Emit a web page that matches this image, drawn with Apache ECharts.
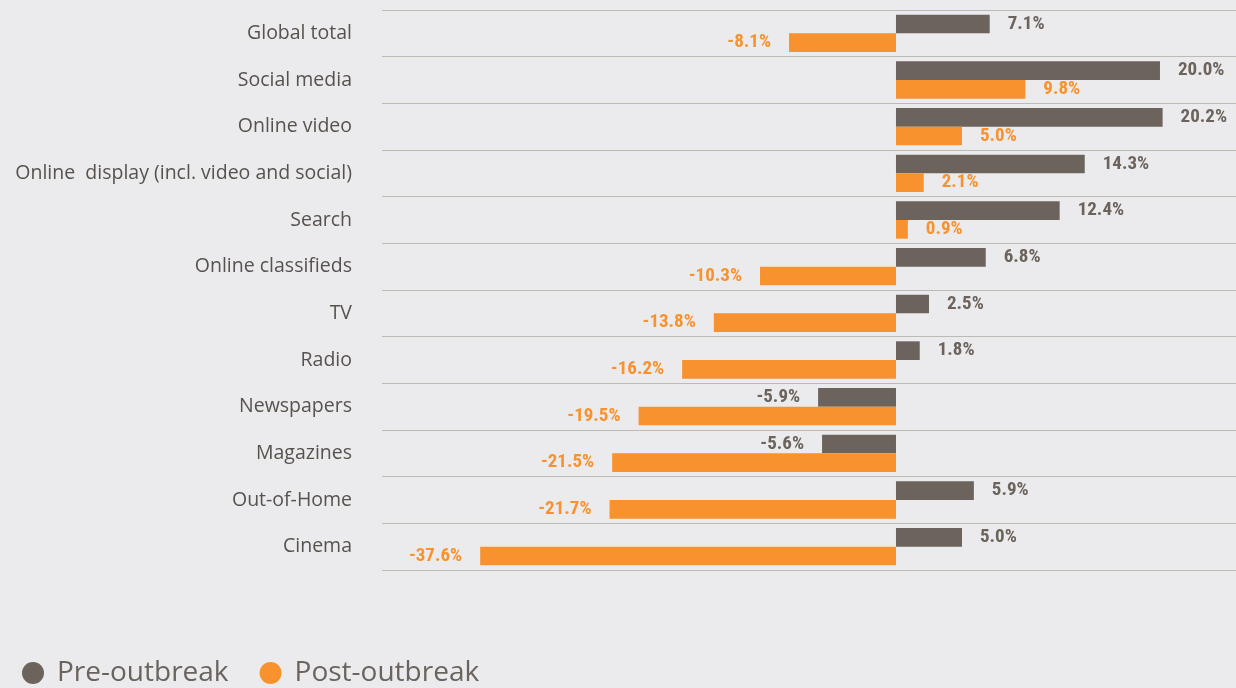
<!DOCTYPE html>
<html>
<head>
<meta charset="utf-8">
<script src="https://cdn.jsdelivr.net/npm/echarts@6/dist/echarts.min.js"></script>
<style>
html,body{margin:0;padding:0;background:#ebebed;}
#chart{width:1236px;height:688px;}
</style>
</head>
<body>
<div id="chart"></div>
<script>
const categories = [
  'Global total', 'Social media', 'Online video', 'Online  display (incl. video and social)',
  'Search', 'Online classifieds', 'TV', 'Radio', 'Newspapers', 'Magazines', 'Out-of-Home', 'Cinema'
];
const preOutbreak = [7.1, 20.0, 20.2, 14.3, 12.4, 6.8, 2.5, 1.8, -5.9, -5.6, 5.9, 5.0];
const postOutbreak = [-8.1, 9.8, 5.0, 2.1, 0.9, -10.3, -13.8, -16.2, -19.5, -21.5, -21.7, -37.6];
const seriesNames = ['Pre-outbreak', 'Post-outbreak'];

const PRE_COLOR = '#6b635c';
const POST_COLOR = '#f7922e';
const LABEL_FONT = '"Roboto Condensed", "Liberation Sans Narrow", "DejaVu Sans Condensed", sans-serif';

function buildData(values) {
  return values.map(v => ({
    value: v,
    label: { position: v >= 0 ? 'right' : 'left' }
  }));
}

function makeSeries(name, values, color) {
  return {
    name: name,
    type: 'bar',
    data: buildData(values),
    barGap: '0%',
    barCategoryGap: '20%',
    itemStyle: { color: color },
    label: {
      show: true,
      distance: 18,
      color: color,
      fontFamily: LABEL_FONT,
      fontSize: 19,
      fontWeight: 'bold',
      formatter: p => p.value.toFixed(1) + '%'
    }
  };
}

const chart = echarts.init(document.getElementById('chart'), null, { renderer: 'canvas' });
chart.setOption({
  backgroundColor: '#ebebed',
  animation: false,
  grid: { left: 382, right: 0, top: 10, height: 560, containLabel: false },
  xAxis: {
    type: 'value',
    min: -45.04,
    max: 25.76,
    // the reference compresses the long Cinema bar; an invisible axis break does the same
    breaks: [{ start: -37.5, end: -31.4, gap: 0 }],
    breakArea: { show: false, itemStyle: { opacity: 0, borderWidth: 0 } },
    axisLabel: { show: false },
    axisLine: { show: false },
    axisTick: { show: false },
    splitLine: { show: false }
  },
  yAxis: {
    type: 'category',
    data: categories,
    inverse: true,
    axisLine: { show: false },
    axisTick: { show: false },
    axisLabel: {
      margin: 30,
      color: '#57524d',
      fontFamily: '"Open Sans", sans-serif',
      fontSize: 19.5
    },
    splitLine: { show: true, lineStyle: { color: '#bcbab5', width: 1.2 } }
  },
  legend: {
    left: 17,
    top: 654,
    icon: 'circle',
    itemWidth: 22,
    itemHeight: 22,
    itemGap: 31,
    data: seriesNames,
    textStyle: {
      fontFamily: '"Open Sans", sans-serif',
      fontSize: 28,
      color: '#6b645e',
      padding: [0, 0, 0, 8]
    }
  },
  series: [
    makeSeries(seriesNames[0], preOutbreak, PRE_COLOR),
    makeSeries(seriesNames[1], postOutbreak, POST_COLOR)
  ]
});
</script>
</body>
</html>
